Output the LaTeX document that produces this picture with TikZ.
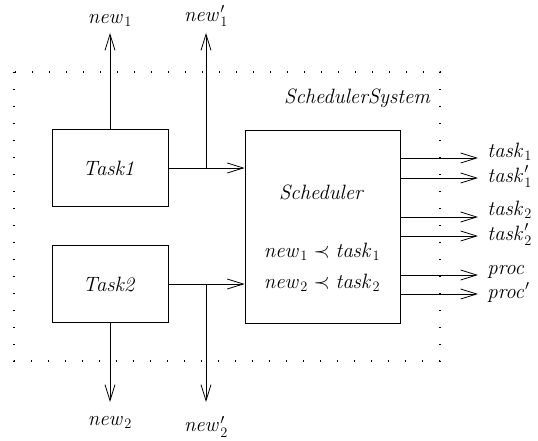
\documentclass[tikz,border=0pt]{standalone}
\usetikzlibrary{arrows.meta}

\begin{document}
\begin{tikzpicture}[x=1pt, y=-1pt, line width=0.8pt,
	box/.style={draw, minimum width=116pt, minimum height=77pt, inner sep=0pt},
	flow/.style={-{Straight Barb[length=16pt, width=10pt, line width=0.8pt]}},
	lbl/.style={font=\huge, inner sep=0pt}]
	\useasboundingbox (0,0) rectangle (538,440);

	% system boundary
	\draw[dash pattern=on 1.2pt off 15.8pt, line width=1.2pt] (14,72) rectangle (440,361);
	\node[lbl, anchor=east] (system) at (432,98) {$\mathit{SchedulerSystem}$};

	% components
	\node[box, lbl] (task1) at (110,168) {$\mathit{Task1}$};
	\node[box, lbl] (task2) at (110,284) {$\mathit{Task2}$};
	\node[draw, minimum width=155pt, minimum height=193pt, inner sep=0pt] (scheduler) at (322.5,226.5) {};
	\node[lbl] (schedname) at (322,192) {$\mathit{Scheduler}$};
	\node[lbl] (prec1) at (322,252) {$\mathit{new}_1 \prec \mathit{task}_1$};
	\node[lbl] (prec2) at (322,283) {$\mathit{new}_2 \prec \mathit{task}_2$};

	% task to scheduler
	\coordinate (branch1) at (206,168);
	\coordinate (branch2) at (206,284);
	\draw[flow] (task1) -- (task1 -| scheduler.west);
	\draw[flow] (task2) -- (task2 -| scheduler.west);

	% new signals
	\coordinate (new1end) at (110,33);
	\coordinate (new1pend) at (206,33);
	\coordinate (new2end) at (110,402);
	\coordinate (new2pend) at (206,402);
	\draw[flow] (task1.north) -- (new1end);
	\draw[flow] (branch1) -- (new1pend);
	\draw[flow] (task2.south) -- (new2end);
	\draw[flow] (branch2) -- (new2pend);
	\node[lbl, anchor=south] (new1) at (110,27) {$\mathit{new}_1$};
	\node[lbl, anchor=south] (new1p) at (206,27) {$\mathit{new}'_1$};
	\node[lbl, anchor=north] (new2) at (110,416) {$\mathit{new}_2$};
	\node[lbl, anchor=north] (new2p) at (206,416) {$\mathit{new}'_2$};

	% scheduler outputs
	\foreach \y/\dy/\name/\txt in {158/-1/out1/{\mathit{task}_1}, 178/4/out2/{\mathit{task}'_1},
		217/-2/out3/{\mathit{task}_2}, 236/4/out4/{\mathit{task}'_2},
		275/-1/out5/{\mathit{proc}}, 294/4/out6/{\mathit{proc}'}}{
		\coordinate (\name) at (478,\y);
		\draw[flow] (scheduler.east |- \name) -- (\name);
		\node[lbl, anchor=base west] at (487,\y+\dy) {$\txt$};
	}
\end{tikzpicture}
\end{document}
